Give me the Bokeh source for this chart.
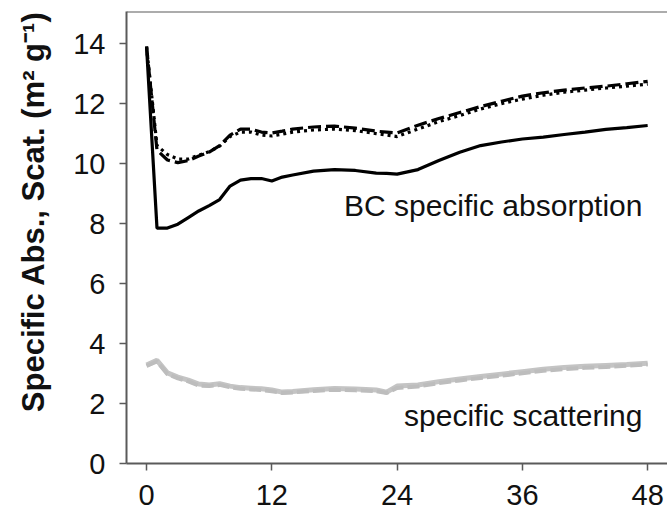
from bokeh.plotting import figure
from bokeh.models import Range1d, Label, Span, FixedTicker
from bokeh.embed import file_html
from bokeh.resources import INLINE

# ---- data ----
hours = [0, 1, 2, 3, 4, 5, 6, 7, 8, 9, 10, 11, 12, 13, 14, 16, 18, 20, 22, 23, 24,
         26, 28, 30, 32, 34, 36, 38, 40, 42, 44, 46, 48]

abs_solid = [13.9, 7.85, 7.85, 7.98, 8.2, 8.42, 8.6, 8.8, 9.25, 9.45, 9.5, 9.5, 9.42,
             9.55, 9.62, 9.75, 9.8, 9.77, 9.68, 9.67, 9.65,
             9.8, 10.1, 10.38, 10.6, 10.72, 10.82, 10.88, 10.97, 11.05, 11.14, 11.2, 11.27]

abs_dash = [13.9, 10.45, 10.12, 10.03, 10.1, 10.25, 10.38, 10.6, 10.95, 11.15, 11.15,
            11.05, 11.02, 11.08, 11.15, 11.22, 11.25, 11.18, 11.08, 11.05, 11.02,
            11.28, 11.5, 11.7, 11.9, 12.08, 12.25, 12.36, 12.45, 12.52, 12.58, 12.66, 12.74]

abs_dot = [13.9, 10.6, 10.3, 10.15, 10.15, 10.28, 10.4, 10.58, 10.9, 11.05, 11.05,
           10.95, 10.92, 10.98, 11.05, 11.12, 11.15, 11.1, 11.0, 10.95, 10.9,
           11.15, 11.4, 11.6, 11.82, 12.0, 12.15, 12.28, 12.38, 12.45, 12.52, 12.58, 12.65]

scat_a = [3.28, 3.44, 3.02, 2.88, 2.78, 2.65, 2.62, 2.66, 2.58, 2.53, 2.51, 2.49, 2.45,
          2.38, 2.4, 2.46, 2.5, 2.48, 2.45, 2.38, 2.58,
          2.62, 2.73, 2.82, 2.9, 2.98, 3.06, 3.14, 3.2, 3.24, 3.27, 3.3, 3.34]

scat_b = [3.25, 3.4, 2.98, 2.84, 2.74, 2.6, 2.58, 2.62, 2.54, 2.49, 2.47, 2.45, 2.41,
          2.35, 2.37, 2.42, 2.46, 2.44, 2.41, 2.35, 2.52,
          2.57, 2.68, 2.77, 2.85, 2.93, 3.01, 3.09, 3.15, 3.19, 3.22, 3.26, 3.3]

x_ticks = [0, 12, 24, 36, 48]
y_ticks = [0, 2, 4, 6, 8, 10, 12, 14]
y_title = "Specific Abs., Scat. (m\u00b2 g\u207b\u00b9)"

FONT = "Liberation Sans"
AXIS_COL = "#5a5a5a"

p = figure(width=667, height=514, output_backend="svg", toolbar_location=None,
           x_range=Range1d(-1.92, 49.9), y_range=Range1d(0, 15.07),
           min_border_left=126, min_border_right=0, min_border_top=11,
           min_border_bottom=51)
p.background_fill_color = "white"
p.border_fill_color = "white"
p.outline_line_color = None
p.grid.visible = False

for ax in (p.xaxis[0], p.yaxis[0]):
    ax.axis_line_color = AXIS_COL
    ax.axis_line_width = 2
    ax.major_tick_line_color = AXIS_COL
    ax.major_tick_line_width = 1.5
    ax.major_tick_out = 7
    ax.major_tick_in = 0
    ax.minor_tick_line_color = None
    ax.major_label_text_font = FONT
    ax.major_label_text_font_size = "29px"
    ax.major_label_text_color = "#111111"

p.xaxis[0].ticker = FixedTicker(ticks=x_ticks)
p.yaxis[0].ticker = FixedTicker(ticks=y_ticks)
p.xaxis[0].major_label_standoff = 14
p.yaxis[0].major_label_standoff = 14

# y axis title; leading no-break spaces lift the visible text like the reference
p.yaxis[0].axis_label = "\u00a0" * 6 + y_title
p.yaxis[0].axis_label_text_font = FONT
p.yaxis[0].axis_label_text_font_size = "31px"
p.yaxis[0].axis_label_text_font_style = "bold"
p.yaxis[0].axis_label_text_color = "#111111"
p.yaxis[0].axis_label_standoff = 19

# top border
p.add_layout(Span(location=15.07, dimension="width", line_color=AXIS_COL, line_width=2))

# scattering (grey)
p.line(hours, scat_a, line_color="#c4c4c4", line_width=5)
p.line(hours, scat_b, line_color="#bdbdbd", line_width=4, line_dash="12 4")

# absorption
p.line(hours, abs_solid, line_color="black", line_width=3.2)
p.line(hours, abs_dash, line_color="black", line_width=3.2, line_dash="13 5")
p.line(hours, abs_dot, line_color="black", line_width=3.2, line_dash="3 4")

# annotations
p.add_layout(Label(x=47.5, y=8.61, text="BC specific absorption", text_align="right",
                   text_baseline="alphabetic", text_font=FONT, text_font_size="30px",
                   text_color="#111111"))
p.add_layout(Label(x=47.5, y=1.61, text="specific scattering", text_align="right",
                   text_baseline="alphabetic", text_font=FONT, text_font_size="30px",
                   text_color="#111111"))

open("out.html", "w").write(file_html(p, INLINE))
